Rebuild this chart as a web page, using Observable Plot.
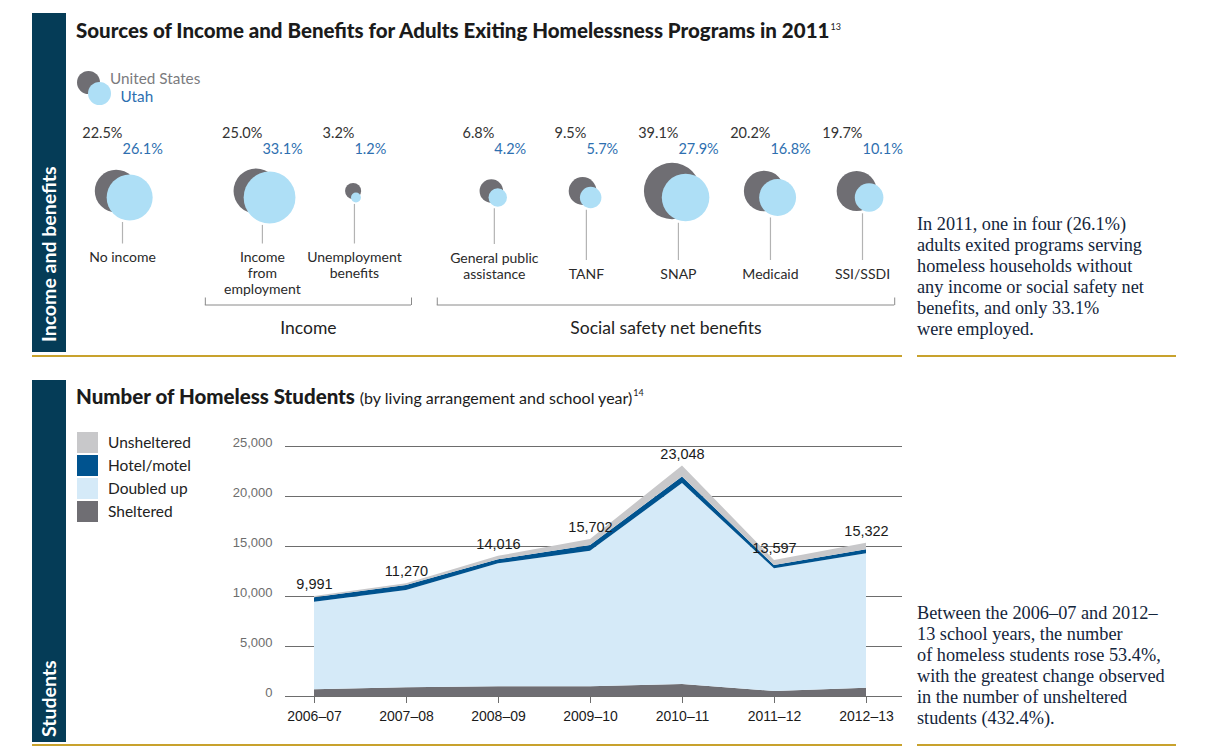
<!DOCTYPE html>
<html><head><meta charset="utf-8">
<script src="https://cdn.jsdelivr.net/npm/d3@7"></script>
<script src="https://cdn.jsdelivr.net/npm/@observablehq/plot@0.6"></script>
<style>
body{margin:0;background:#fff;}
#page{position:relative;width:1230px;height:755px;overflow:hidden;font-family:Lato,sans-serif;}
.side{position:absolute;left:32px;width:34px;background:#053c57;}
.gold{position:absolute;height:2px;background:#c8a22d;}
.title{position:absolute;left:76px;font-weight:900;font-size:20.5px;color:#1b1b1b;white-space:nowrap;line-height:22px;}
.title sup{font-size:9px;font-weight:400;vertical-align:top;position:relative;top:-3px;margin-left:1px;}
.title .sub{font-weight:400;font-size:16px;}
.note{position:absolute;left:917px;font-family:"Liberation Serif",serif;font-size:18.3px;line-height:21px;color:#13253b;white-space:nowrap;}
.sidelabel{position:absolute;color:#fff;font-weight:700;font-size:19.5px;white-space:nowrap;transform:rotate(-90deg);transform-origin:0 50%;line-height:20px;}
.circ{position:absolute;border-radius:50%;}
.lg{position:absolute;font-size:15.3px;white-space:nowrap;line-height:18px;}
.sq{position:absolute;left:77px;width:21px;height:21px;}
.sqt{position:absolute;left:108px;font-size:15.5px;line-height:21px;color:#222;white-space:nowrap;}
#top,#bottom{position:absolute;}
svg{overflow:visible;}
</style></head><body><div id="page">
<div class="side" style="top:13px;height:339px"></div>
<div class="side" style="top:380px;height:362px"></div>
<div class="sidelabel" style="left:49px;top:332px">Income and benefits</div>
<div class="sidelabel" style="left:49px;top:727px">Students</div>
<div class="gold" style="left:32px;top:355px;width:870px"></div>
<div class="gold" style="left:917px;top:355px;width:259px"></div>
<div class="gold" style="left:32px;top:744px;width:870px"></div>
<div class="gold" style="left:917px;top:744px;width:259px"></div>
<div class="title" style="top:19px">Sources of Income and Benefits for Adults Exiting Homelessness Programs in 2011<sup>13</sup></div>
<div class="title" style="top:385px">Number of Homeless Students <span class="sub">(by living arrangement and school year)</span><sup>14</sup></div>
<div id="toplegend"></div>
<div id="botlegend"></div>
<div id="top" style="left:66px;top:115px"></div>
<div id="bottom" style="left:200px;top:420px"></div>
<div class="note" style="top:214px">In 2011, one in four (26.1%)<br>adults exited programs serving<br>homeless households without<br>any income or social safety net<br>benefits, and only 33.1%<br>were employed.</div>
<div class="note" style="top:603px">Between the 2006–07 and 2012–<br>13 school years, the number<br>of homeless students rose 53.4%,<br>with the greatest change observed<br>in the number of unsheltered<br>students (432.4%).</div>
</div>
<script>
// ---------- Data: income & benefits ----------
const categories = ["No income","Income\nfrom\nemployment","Unemployment\nbenefits","General public\nassistance","TANF","SNAP","Medicaid","SSI/SSDI"];
const groups = ["","Income","Income","Social safety net benefits","Social safety net benefits","Social safety net benefits","Social safety net benefits","Social safety net benefits"];
const usShare = [22.5,25.0,3.2,6.8,9.5,39.1,20.2,19.7];
const utahShare = [26.1,33.1,1.2,4.2,5.7,27.9,16.8,10.1];
const seriesNames = ["United States","Utah"];

// ---------- Data: homeless students ----------
const years = ["2006–07","2007–08","2008–09","2009–10","2010–11","2011–12","2012–13"];
const sheltered   = [680, 870, 970, 970, 1200, 500, 830];
const doubledUp   = [8749, 9730, 12296, 13562, 20088, 12267, 13442];
const hotelMotel  = [440, 500, 400, 570, 660, 330, 400];
const unsheltered = [122, 170, 350, 600, 1100, 500, 650];
const totals = [9991, 11270, 14016, 15702, 23048, 13597, 15322];
const livingTypes = ["Sheltered","Doubled up","Hotel/motel","Unsheltered"];
const yTicks = [0,5000,10000,15000,20000,25000];

// ---------- colours ----------
const usColor = "#6f6e73", utahColor = "#aedff6";
const livingColors = ["#6f6e73","#d5eaf8","#00538f","#c8c8ca"];

// ---------- legends (HTML) ----------
document.getElementById("toplegend").innerHTML =
 `<div class="circ" style="left:76.6px;top:70.6px;width:23.4px;height:23.4px;background:${usColor}"></div>
  <div class="circ" style="left:88px;top:82.3px;width:23px;height:23px;background:${utahColor}"></div>
  <div class="lg" style="left:110px;top:68.7px;color:#7b7b7e">${seriesNames[0]}</div>
  <div class="lg" style="left:120.5px;top:87px;color:#2e6fb0">${seriesNames[1]}</div>`;
const legendOrder = ["Unsheltered","Hotel/motel","Doubled up","Sheltered"];
document.getElementById("botlegend").innerHTML = legendOrder.map((t,k)=>
 `<div class="sq" style="top:${432+k*23}px;background:${livingColors[livingTypes.indexOf(t)]}"></div>
  <div class="sqt" style="top:${432+k*23}px">${t}</div>`).join("");

// ---------- top chart ----------
const groupOrder = [...new Set(groups)];
const GAP = 0.52;
const pos = categories.map((c,i)=> i + GAP*groupOrder.indexOf(groups[i]));
const rMax = 23, rRef = 26.1;
const rPx = d3.scaleSqrt().domain([0,rRef]).range([0,rMax]);
const W1 = 844, H1 = 232, TOP = 115; // svg placed at page y=115
const LBL = 14, PCT = 14.5;
const marks1 = [];
categories.forEach((c,i)=>{
  const r1 = rPx(usShare[i]), r2 = rPx(utahShare[i]);
  const off = Math.max(0, Math.min(13.5, 0.45*(r1+r2)-3));
  const d = [i];
  const social = groupOrder.indexOf(groups[i]) === 2;
  const n = c.split("\n").length;
  const firstBase = social ? 278.5 - (n-1)*16 : 262;
  const labelY = firstBase - 11.5 - TOP;
  const stemEnd = labelY - 7;
  marks1.push(Plot.ruleX(d,{x:j=>pos[j], stroke:"#b3b3b3", strokeWidth:1.2, insetTop:82+r2+2, insetBottom:H1-stemEnd}));
  marks1.push(Plot.dot(d,{x:j=>pos[j], r:j=>usShare[j], fill:usColor, frameAnchor:"top", dy:75.5, dx:-off*0.47}));
  marks1.push(Plot.dot(d,{x:j=>pos[j], r:j=>utahShare[j], fill:utahColor, frameAnchor:"top", dy:82, dx:off*0.53}));
  marks1.push(Plot.text(d,{x:j=>pos[j], text:j=>categories[j], frameAnchor:"top", lineAnchor:"top", dy:labelY, lineHeight:16/LBL, fontSize:LBL, fill:"#2a2a2a"}));
});
marks1.push(Plot.text(d3.range(categories.length),{x:j=>pos[j], text:j=>usShare[j].toFixed(1)+"%", frameAnchor:"top", lineAnchor:"top", dy:139-11.5-TOP, textAnchor:"end", fontSize:PCT, fill:"#333"}));
marks1.push(Plot.text(d3.range(categories.length),{x:j=>pos[j], text:j=>utahShare[j].toFixed(1)+"%", frameAnchor:"top", lineAnchor:"top", dy:155-11.5-TOP, textAnchor:"start", fontSize:PCT, fill:"#2e6fb0"}));
// brackets
const maxPos = d3.max(pos);
const brackets = groupOrder.filter(g=>g).map(g=>{
  const ps = pos.filter((p,i)=>groups[i]===g);
  return {g, x1:d3.min(ps)-0.62, x2:Math.min(d3.max(ps)+0.62, maxPos+0.35)};
});
marks1.push(Plot.ruleY(brackets,{y:null, x1:"x1", x2:"x2", stroke:"#8a8a8a", dy:(304.5-TOP)-H1/2}));
marks1.push(Plot.ruleX(brackets.flatMap(b=>[b.x1,b.x2]),{x:d=>d, stroke:"#8a8a8a", insetTop:297.5-TOP, insetBottom:H1-(305-TOP)}));
marks1.push(Plot.text(brackets,{x:b=>(b.x1+b.x2)/2, text:"g", frameAnchor:"top", lineAnchor:"top", dy:335-13.5-TOP, fontSize:17.5, fill:"#222"}));

document.getElementById("top").append(Plot.plot({
  width:W1, height:H1, marginTop:0, marginBottom:0, marginLeft:56, marginRight:W1-56-740,
  x:{domain:[0,maxPos], axis:null},
  r:{domain:[0,rRef], range:[0,rMax]},
  style:{fontFamily:"Lato, sans-serif", background:"transparent"},
  marks:marks1
}));

// ---------- bottom chart ----------
const series = [sheltered, doubledUp, hotelMotel, unsheltered];
const areaData = [];
years.forEach((y,i)=>series.forEach((arr,k)=>areaData.push({year:y, type:livingTypes[k], value:arr[i]})));
const totalData = years.map((y,i)=>({year:y, total:totals[i]}));
const fmt = d3.format(",");
const W2 = 710, H2 = 330;
document.getElementById("bottom").append(Plot.plot({
  width:W2, height:H2, marginLeft:111, marginRight:42, marginTop:26, marginBottom:54,
  x:{type:"point", domain:years, padding:0},
  y:{domain:[0,25000]},
  color:{domain:livingTypes, range:livingColors},
  style:{fontFamily:"Liberation Sans, Arial, sans-serif", background:"transparent"},
  marks:[
    Plot.ruleY(yTicks,{stroke:"#6d6d6d", insetLeft:-26, insetRight:-34}),
    Plot.areaY(areaData,{x:"year", y:"value", fill:"type", curve:"linear"}),
    Plot.axisY(yTicks,{tickSize:0, tickPadding:39, fontSize:13, color:"#6d6d6d", dy:-4, tickFormat:fmt, label:null}),
    Plot.axisX({tickSize:7, tickPadding:8, fontSize:14, color:"#1a1a1a", stroke:"#6d6d6d", label:null, fontFamily:"Liberation Sans Narrow, Liberation Sans, sans-serif"}),
    Plot.text(totalData,{x:"year", y:"total", text:d=>fmt(d.total), dy:-12, lineAnchor:"middle", fontSize:14.5, fill:"#1a1a1a", fontFamily:"Liberation Sans Narrow, Liberation Sans, sans-serif"})
  ]
}));
</script>
</body></html>
